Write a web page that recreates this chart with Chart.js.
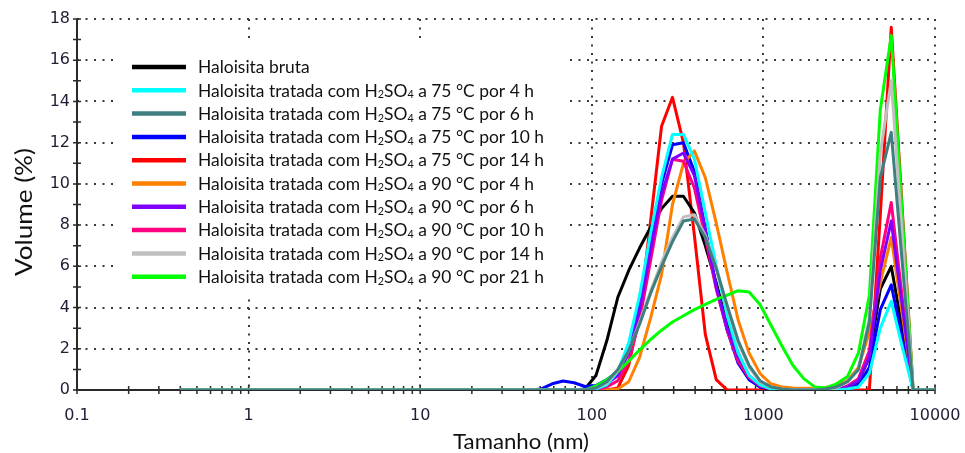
<!DOCTYPE html>
<html>
<head>
<meta charset="utf-8">
<script src="https://cdn.jsdelivr.net/npm/chart.js@4.4.1/dist/chart.umd.min.js"></script>
<style>
    html, body { margin: 0; padding: 0; background: #fff; }
</style>
</head>
<body>
<canvas id="size-chart" width="965" height="453"></canvas>
<script>
// particle size classes (nm)
const sizes_nm = [0.4, 43.82, 50.75, 58.77, 68.06, 78.82, 91.28, 105.7, 122.4, 141.8, 164.2, 190.1, 220.2, 255.0, 295.3, 342.0, 396.1, 458.7, 531.2, 615.1, 712.4, 825.0, 955.4, 1106, 1281, 1484, 1718, 1990, 2305, 2669, 3091, 3580, 4145, 4801, 5560, 6439, 7456, 8635, 10000];

// volume (%) per size class
const bruta    = [0, 0, 0, 0, 0, 0, 0.05, 0.7, 2.4, 4.5, 5.8, 6.9, 7.9, 8.8, 9.4, 9.4, 8.6, 7.0, 5.2, 3.2, 1.8, 0.6, 0.15, 0.05, 0, 0, 0, 0, 0, 0.05, 0.15, 0.4, 1.6, 4.9, 6.0, 3.0, 0, 0, 0];
const t75_4h   = [0, 0, 0, 0, 0, 0, 0, 0.05, 0.25, 0.9, 2.3, 4.6, 7.6, 10.3, 12.4, 12.4, 11.2, 8.6, 6.0, 3.6, 1.8, 0.7, 0.25, 0.05, 0, 0, 0, 0, 0, 0, 0.05, 0.15, 0.8, 3.0, 4.3, 2.1, 0, 0, 0];
const t75_6h   = [0, 0, 0, 0, 0, 0, 0, 0.1, 0.4, 1.0, 1.9, 3.2, 4.7, 6.0, 7.2, 8.2, 8.3, 7.4, 5.9, 4.1, 2.4, 1.2, 0.45, 0.15, 0.05, 0, 0, 0, 0.05, 0.15, 0.4, 1.0, 3.3, 10.3, 12.5, 6.2, 0, 0, 0];
const t75_10h  = [0, 0, 0.05, 0.3, 0.44, 0.35, 0.17, 0.22, 0.5, 0.9, 2.1, 4.3, 7.2, 10.0, 11.9, 12.0, 10.6, 7.8, 5.0, 2.9, 1.3, 0.5, 0.15, 0.05, 0, 0, 0, 0, 0, 0, 0, 0.25, 1.1, 3.9, 5.1, 2.5, 0, 0, 0];
const t75_14h  = [0, 0, 0, 0, 0, 0, 0, 0, 0, 0.1, 1.2, 3.7, 8.2, 12.8, 14.2, 12.0, 7.5, 2.7, 0.5, 0, 0, 0, 0, 0, 0, 0, 0, 0, 0, 0, 0, 0, 0, 8.5, 17.6, 8.8, 0, 0, 0];
const t90_4h   = [0, 0, 0, 0, 0, 0, 0, 0, 0, 0.05, 0.4, 1.6, 3.5, 5.6, 9.0, 11.0, 11.6, 10.3, 8.1, 5.7, 3.4, 1.8, 0.8, 0.3, 0.15, 0.1, 0.08, 0.08, 0.12, 0.2, 0.45, 1.1, 2.8, 5.2, 7.4, 3.7, 0, 0, 0];
const t90_6h   = [0, 0, 0, 0, 0, 0, 0, 0.1, 0.3, 0.7, 1.8, 3.9, 6.8, 9.5, 11.2, 11.5, 10.4, 7.8, 5.0, 3.0, 1.6, 0.7, 0.25, 0.1, 0, 0, 0, 0, 0, 0, 0.15, 0.45, 1.6, 5.8, 8.2, 4.1, 0, 0, 0];
const t90_10h  = [0, 0, 0, 0, 0, 0, 0, 0, 0.15, 0.45, 1.4, 3.4, 6.3, 9.2, 11.2, 11.1, 9.8, 7.4, 4.9, 2.9, 1.4, 0.6, 0.2, 0.05, 0, 0, 0, 0, 0, 0, 0.2, 0.55, 1.9, 6.4, 9.1, 4.5, 0, 0, 0];
const t90_14h  = [0, 0, 0, 0, 0, 0, 0, 0.1, 0.35, 0.95, 1.9, 3.3, 4.8, 6.2, 7.4, 8.4, 8.5, 7.5, 5.9, 4.0, 2.3, 1.1, 0.4, 0.15, 0.05, 0, 0, 0, 0, 0.1, 0.4, 1.0, 3.5, 11.5, 15.0, 7.5, 0, 0, 0];
const t90_21h  = [0, 0, 0, 0, 0, 0, 0, 0.2, 0.5, 0.9, 1.4, 1.95, 2.45, 2.9, 3.3, 3.6, 3.9, 4.15, 4.4, 4.6, 4.82, 4.75, 4.15, 3.15, 2.15, 1.2, 0.55, 0.15, 0.1, 0.3, 0.65, 1.8, 4.6, 13.6, 17.2, 8.6, 0, 0, 0];

const series_labels = [
    'Haloisita bruta',
    'Haloisita tratada com H₂SO₄ a 75 °C por 4 h',
    'Haloisita tratada com H₂SO₄ a 75 °C por 6 h',
    'Haloisita tratada com H₂SO₄ a 75 °C por 10 h',
    'Haloisita tratada com H₂SO₄ a 75 °C por 14 h',
    'Haloisita tratada com H₂SO₄ a 90 °C por 4 h',
    'Haloisita tratada com H₂SO₄ a 90 °C por 6 h',
    'Haloisita tratada com H₂SO₄ a 90 °C por 10 h',
    'Haloisita tratada com H₂SO₄ a 90 °C por 14 h',
    'Haloisita tratada com H₂SO₄ a 90 °C por 21 h'
];
const series_values = [bruta, t75_4h, t75_6h, t75_10h, t75_14h, t90_4h, t90_6h, t90_10h, t90_14h, t90_21h];
const series_colors = ['#000000', '#00ffff', '#407f7f', '#0000ff', '#ff0000', '#ff8000', '#8000ff', '#ff0080', '#c0c0c0', '#00ff00'];
// lower = painted later (on top)
const series_order = [8, 3, 0, 7, 9, 6, 4, 5, 1, 2];

const x_tick_values = [0.1, 1, 10, 100, 1000, 10000];
const x_tick_labels = ['0.1', '1', '10', '100', '1000', '10000'];
const y_tick_values = [0, 2, 4, 6, 8, 10, 12, 14, 16, 18];

const tick_color = '#1e1e34';
const grid_color = '#3a3a3a';

// minor tick marks drawn across both axes
const x_minor = [];
[0.1, 1, 10, 100, 1000].forEach(d => {
    for (let m = 1; m <= 10; m++) x_minor.push(d * m);
});
const y_minor = [];
for (let v = 0; v <= 18; v++) y_minor.push(v);

const axis_marks = {
    id: 'axis_marks',
    beforeDatasetsDraw(chart) {
        const ctx = chart.ctx;
        const xs = chart.scales.x;
        const ys = chart.scales.y;
        const x0 = xs.getPixelForValue(0.1);
        const y0 = ys.getPixelForValue(0);
        ctx.save();
        ctx.strokeStyle = '#2a2a2a';
        ctx.lineWidth = 2;
        ctx.beginPath();
        ctx.moveTo(x0, ys.getPixelForValue(18));
        ctx.lineTo(x0, y0);
        ctx.lineTo(xs.getPixelForValue(10000), y0);
        ctx.stroke();
        ctx.lineWidth = 1.5;
        ctx.beginPath();
        y_minor.forEach(v => {
            const p = ys.getPixelForValue(v);
            ctx.moveTo(x0 - 4, p);
            ctx.lineTo(x0 + 4, p);
        });
        x_minor.forEach(v => {
            const p = xs.getPixelForValue(v);
            ctx.moveTo(p, y0 - 4);
            ctx.lineTo(p, y0 + 4);
        });
        ctx.stroke();
        ctx.restore();
    }
};

// text with subscript digits (₂ ₄), squeezed horizontally by sx
const sub_digits = { '₂': '2', '₄': '4' };

function text_runs(text) {
    const runs = [];
    for (const ch of text) {
        const sub = ch in sub_digits;
        const c = sub ? sub_digits[ch] : ch;
        if (runs.length && runs[runs.length - 1].sub == sub) runs[runs.length - 1].text += c;
        else runs.push({ text: c, sub: sub });
    }
    return runs;
}

function runs_width(ctx, runs, size, family) {
    let w = 0;
    runs.forEach(r => {
        ctx.font = (r.sub ? size * 0.62 : size) + 'px ' + family;
        w += ctx.measureText(r.text).width;
    });
    return w;
}

function draw_runs(ctx, runs, x, y, size, family, sx) {
    ctx.save();
    ctx.translate(x, y);
    ctx.scale(sx, 1);
    let cx = 0;
    runs.forEach(r => {
        ctx.font = (r.sub ? size * 0.62 : size) + 'px ' + family;
        ctx.fillText(r.text, cx, r.sub ? size * 0.1 : 0);
        cx += ctx.measureText(r.text).width;
    });
    ctx.restore();
}

const inner_legend = {
    id: 'inner_legend',
    afterDraw(chart) {
        const ctx = chart.ctx;
        const family = 'Lato';
        const size = 17.5;
        ctx.save();
        ctx.fillStyle = '#ffffff';
        ctx.fillRect(113, 38, 454, 258);

        const all_runs = series_labels.map(t => text_runs(t));
        const widest = Math.max(...all_runs.map(r => runs_width(ctx, r, size, family)));
        const sx = 346 / widest;

        ctx.textBaseline = 'alphabetic';
        ctx.fillStyle = '#111';
        all_runs.forEach((runs, i) => {
            const cy = 67 + i * 23.3;
            ctx.strokeStyle = series_colors[i];
            ctx.lineWidth = 4.5;
            ctx.beginPath();
            ctx.moveTo(132, cy);
            ctx.lineTo(186, cy);
            ctx.stroke();
            draw_runs(ctx, runs, 198, cy + 6.2, size, family, sx);
        });

        // axis titles
        ctx.fillStyle = '#111';
        ctx.textAlign = 'center';
        ctx.textBaseline = 'middle';
        ctx.font = '23px Lato';
        let w = ctx.measureText('Volume (%)').width;
        ctx.translate(25, 212);
        ctx.rotate(-Math.PI / 2);
        ctx.scale(128 / w, 1);
        ctx.fillText('Volume (%)', 0, 0);
        ctx.setTransform(1, 0, 0, 1, 0, 0);
        ctx.font = '21px Lato';
        w = ctx.measureText('Tamanho (nm)').width;
        ctx.translate(521, 442);
        ctx.scale(136 / w, 1);
        ctx.fillText('Tamanho (nm)', 0, 0);
        ctx.restore();
    }
};

const datasets = series_values.map((vals, i) => ({
    label: series_labels[i],
    data: sizes_nm.map((s, k) => ({ x: s, y: vals[k] })),
    borderColor: series_colors[i],
    backgroundColor: series_colors[i],
    borderWidth: 3,
    borderJoinStyle: 'round',
    pointRadius: 0,
    tension: 0,
    fill: false,
    order: series_order[i]
}));

const size_chart = new Chart(document.getElementById('size-chart'), {
    type: 'line',
    data: { datasets: datasets },
    options: {
        responsive: false,
        animation: false,
        devicePixelRatio: 1,
        layout: { padding: { top: 19, right: 30, left: 0, bottom: 0 } },
        plugins: {
            legend: { display: false },
            tooltip: { enabled: false }
        },
        scales: {
            x: {
                type: 'logarithmic',
                min: 0.1,
                max: 10000,
                afterBuildTicks: scale => {
                    scale.ticks = x_tick_values.map(v => ({ value: v }));
                },
                afterFit: scale => {
                    // keep the plot edge fixed, the last label may hang into the padding
                    scale.height = 63;
                    scale.paddingLeft = 0;
                    scale.paddingRight = 0;
                },
                ticks: {
                    autoSkip: false,
                    maxRotation: 0,
                    padding: 16,
                    color: tick_color,
                    font: { family: 'DejaVu Sans', size: 16 },
                    callback: (v, i) => x_tick_labels[i]
                },
                grid: {
                    drawTicks: false,
                    lineWidth: 2,
                    color: c => (c.tick && c.tick.value == 0.1) ? 'rgba(0,0,0,0)' : grid_color
                },
                border: { display: false, dash: [2, 6.5] }
            },
            y: {
                min: 0,
                max: 18,
                afterBuildTicks: scale => {
                    scale.ticks = y_tick_values.map(v => ({ value: v }));
                },
                afterFit: scale => { scale.width = 77; },
                ticks: {
                    padding: 7,
                    color: tick_color,
                    font: { family: 'DejaVu Sans', size: 16 }
                },
                grid: {
                    drawTicks: false,
                    lineWidth: 2,
                    color: c => (c.tick && c.tick.value == 0) ? 'rgba(0,0,0,0)' : grid_color
                },
                border: { display: false, dash: [2, 6.5] }
            }
        }
    },
    plugins: [axis_marks, inner_legend]
});
</script>
</body>
</html>
